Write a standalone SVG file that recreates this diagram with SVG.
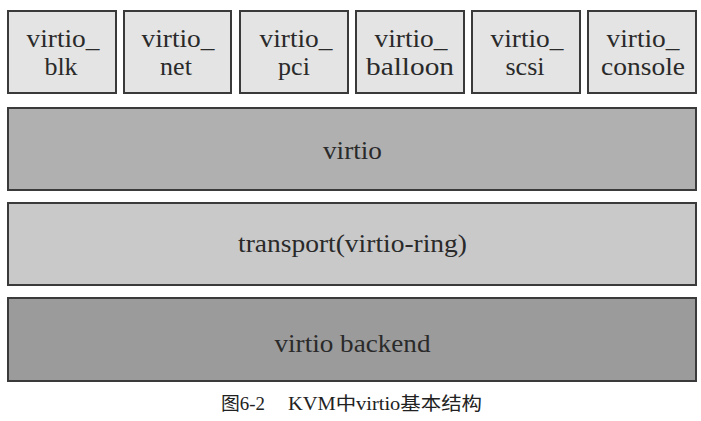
<svg xmlns="http://www.w3.org/2000/svg" width="701" height="421" viewBox="0 0 701 421">
<style>
.box{stroke:#3a3a3a;stroke-width:2}
.top{fill:#e4e4e4}
.l1{fill:#b0b0b0}
.l2{fill:#c9c9c9}
.l3{fill:#9b9b9b}
.t{font-family:"Times New Roman","Liberation Serif",Tinos,"Noto Serif",serif;font-size:26px;fill:#2a2a2a;text-anchor:middle}
.cap{font-family:"Times New Roman","Liberation Serif","Noto Sans CJK SC",serif;font-size:18px;fill:#222}
</style>
<rect width="701" height="421" fill="#ffffff"/>
<g id="virtio_blk"><rect class="box top" x="8" y="11" width="108" height="82"/><text class="t" x="63" y="47" textLength="73" lengthAdjust="spacingAndGlyphs">virtio_</text><text class="t" x="61" y="75">blk</text></g>
<g id="virtio_net"><rect class="box top" x="124" y="11" width="107" height="82"/><text class="t" x="178" y="47" textLength="73" lengthAdjust="spacingAndGlyphs">virtio_</text><text class="t" x="176" y="75">net</text></g>
<g id="virtio_pci"><rect class="box top" x="240" y="11" width="108" height="82"/><text class="t" x="296" y="47" textLength="73" lengthAdjust="spacingAndGlyphs">virtio_</text><text class="t" x="294" y="75">pci</text></g>
<g id="virtio_balloon"><rect class="box top" x="356" y="11" width="108" height="82"/><text class="t" x="411" y="47" textLength="73" lengthAdjust="spacingAndGlyphs">virtio_</text><text class="t" x="410" y="75" textLength="88" lengthAdjust="spacingAndGlyphs">balloon</text></g>
<g id="virtio_scsi"><rect class="box top" x="472" y="11" width="108" height="82"/><text class="t" x="527" y="47" textLength="73" lengthAdjust="spacingAndGlyphs">virtio_</text><text class="t" x="525" y="75">scsi</text></g>
<g id="virtio_console"><rect class="box top" x="588" y="11" width="108" height="82"/><text class="t" x="643" y="47" textLength="73" lengthAdjust="spacingAndGlyphs">virtio_</text><text class="t" x="643" y="75" textLength="84" lengthAdjust="spacingAndGlyphs">console</text></g>
<g id="virtio"><rect class="box l1" x="8" y="108" width="688" height="82"/><text class="t" x="352.5" y="159" textLength="59" lengthAdjust="spacingAndGlyphs">virtio</text></g>
<g id="transport"><rect class="box l2" x="8" y="203" width="688" height="82"/><text class="t" x="352.5" y="252" textLength="229" lengthAdjust="spacingAndGlyphs">transport(virtio-ring)</text></g>
<g id="backend"><rect class="box l3" x="8" y="298" width="688" height="83"/><text class="t" x="352.5" y="352" textLength="156" lengthAdjust="spacingAndGlyphs">virtio backend</text></g>
<g id="connectors"></g>
<text class="cap" x="221" y="410" textLength="44" lengthAdjust="spacingAndGlyphs">图6-2</text>
<text class="cap" x="288" y="410" textLength="194" lengthAdjust="spacingAndGlyphs">KVM中virtio基本结构</text>
</svg>
